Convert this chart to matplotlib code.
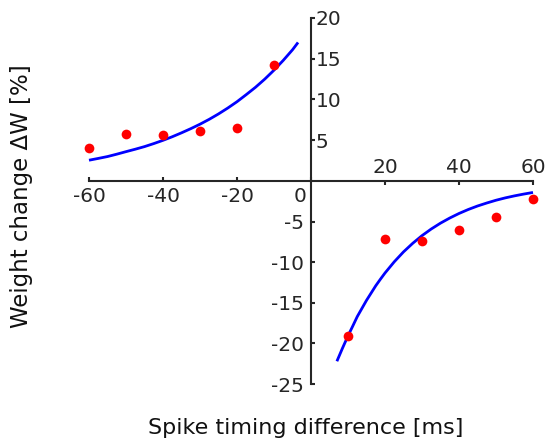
import matplotlib
matplotlib.use("Agg")
import matplotlib.pyplot as plt
import matplotlib.transforms as mtransforms

plt.rcParams['axes.unicode_minus'] = False
plt.rcParams['font.family'] = ['DejaVu Sans']

# Data
ltp_dt = [-60, -50, -40, -30, -20, -10]
ltp_dw = [4.0, 5.8, 5.7, 6.1, 6.5, 14.2]
ltd_dt = [10, 20, 30, 40, 50, 60]
ltd_dw = [-19.1, -7.1, -7.4, -6.0, -4.4, -2.2]

ltp_fit_x = [-60, -57.5, -55, -52.5, -50, -47.5, -45, -42.5, -40, -37.5, -35, -32.5, -30,
             -27.5, -25, -22.5, -20, -17.5, -15, -12.5, -10, -7.5, -5, -3.5]
ltp_fit_y = [2.55, 2.77, 3.0, 3.29, 3.6, 3.90, 4.22, 4.59, 4.99, 5.43, 5.91, 6.42, 6.97,
             7.57, 8.23, 8.95, 9.73, 10.6, 11.5, 12.5, 13.6, 14.8, 16.1, 17.0]
ltd_fit_x = [7, 8.5, 10, 11.25, 12.5, 13.75, 15, 16.25, 17.5, 18.75, 20, 22.5, 25, 27.5, 30,
             32.5, 35, 37.5, 40, 42.5, 45, 47.5, 50, 52.5, 55, 57.5, 60]
ltd_fit_y = [-22.2, -20.6, -19.07, -17.9, -16.7, -15.7, -14.7, -13.8, -12.9, -12.1, -11.33,
             -9.95, -8.73, -7.67, -6.73, -5.91, -5.19, -4.56, -4.0, -3.51, -3.08, -2.71,
             -2.37, -2.08, -1.83, -1.61, -1.41]

left_xticks = [-60, -40, -20, 0]
left_yticks = [5, 10, 15, 20]
right_xticks = [20, 40, 60]
right_yticks = [-25, -20, -15, -10, -5]

xlabel = "Spike timing difference [ms]"
ylabel = "Weight change ΔW [%]"

W, H = 545, 445
fig = plt.figure(figsize=(W / 100, H / 100), dpi=100)

axcol = '#262626'
fs = 14.5
lw_ax = 1.5

# pixel geometry
x0, xm, x1 = 89, 311, 533
y_top, y_mid, y_bot = 18, 181, 384

axL = fig.add_axes([x0 / W, (H - y_mid) / H, (xm - x0) / W, (y_mid - y_top) / H])
axR = fig.add_axes([xm / W, (H - y_bot) / H, (x1 - xm) / W, (y_bot - y_mid) / H])

for ax in (axL, axR):
    ax.patch.set_alpha(0)
    for s in ax.spines.values():
        s.set_visible(False)
        s.set_color(axcol)
        s.set_linewidth(lw_ax)

# Left panel
axL.set_xlim(-60, 0)
axL.set_ylim(0, 20)
axL.spines['bottom'].set_visible(True)
axL.spines['right'].set_visible(True)
axL.xaxis.set_ticks_position('bottom')
axL.yaxis.set_ticks_position('right')
axL.set_xticks(left_xticks)
axL.set_xticklabels([str(v) for v in left_xticks])
axL.set_yticks(left_yticks)
axL.set_yticklabels([str(v) for v in left_yticks])
axL.tick_params(axis='x', direction='in', length=3, width=lw_ax, color=axcol,
                labelsize=fs, labelcolor=axcol, pad=4)
axL.tick_params(axis='y', direction='out', length=3, width=lw_ax, color=axcol,
                labelsize=fs, labelcolor=axcol, pad=0.5, labelright=True, labelleft=False)
# shift the "0" label left
lbl0 = axL.get_xticklabels()[-1]
lbl0.set_transform(lbl0.get_transform() + mtransforms.ScaledTranslation(-11 / 100, 0, fig.dpi_scale_trans))

axL.plot(ltp_fit_x, ltp_fit_y, color='#0000ff', lw=2.0, solid_capstyle='butt',
         solid_joinstyle='round', clip_on=False, zorder=2)
axL.plot(ltp_dt, ltp_dw, 'o', color='#ff0000', ms=7, mec='none', clip_on=False, zorder=3)

# Right panel
axR.set_xlim(0, 60)
axR.set_ylim(-25, 0)
axR.spines['top'].set_visible(True)
axR.spines['left'].set_visible(True)
axR.xaxis.set_ticks_position('top')
axR.yaxis.set_ticks_position('left')
axR.set_xticks(right_xticks)
axR.set_xticklabels([str(v) for v in right_xticks])
axR.set_yticks(right_yticks)
axR.set_yticklabels([str(v) for v in right_yticks])
axR.tick_params(axis='x', direction='in', length=3, width=lw_ax, color=axcol,
                labelsize=fs, labelcolor=axcol, pad=3, labeltop=True, labelbottom=False)
axR.tick_params(axis='y', direction='in', length=3, width=lw_ax, color=axcol,
                labelsize=fs, labelcolor=axcol, pad=5)

axR.plot(ltd_fit_x, ltd_fit_y, color='#0000ff', lw=2.0, solid_capstyle='butt',
         solid_joinstyle='round', clip_on=False, zorder=2)
axR.plot(ltd_dt, ltd_dw, 'o', color='#ff0000', ms=7, mec='none', clip_on=False, zorder=3)

fig.text(305.5 / W, 1 - 428 / H, xlabel, ha='center', va='center', fontsize=16, color='#111111')
fig.text(22 / W, 1 - 196.5 / H, ylabel, ha='center', va='center', rotation=90, fontsize=16.5, color='#111111')

fig.savefig('out.png', dpi=100)
